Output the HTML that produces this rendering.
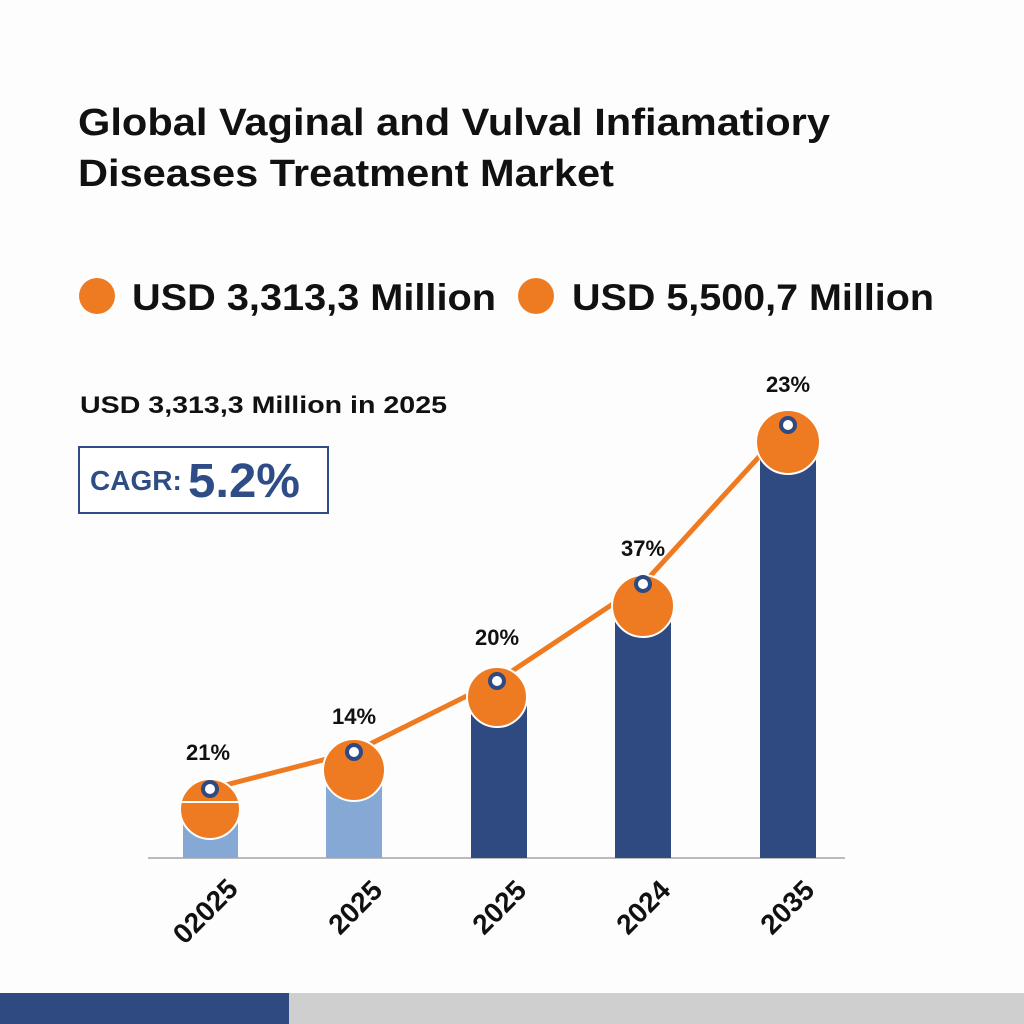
<!DOCTYPE html>
<html><head><style>body{margin:0;background:#fff}svg{display:block}</style></head><body>
<svg width="1024" height="1024" viewBox="0 0 1024 1024" font-family="Liberation Sans, Arial, sans-serif">
<rect width="1024" height="1024" fill="#fdfdfd"/>
<text x="78" y="135" font-size="38" font-weight="bold" fill="#111" textLength="752" lengthAdjust="spacingAndGlyphs">Global Vaginal and Vulval Infiamatiory</text>
<text x="78" y="186" font-size="38" font-weight="bold" fill="#111" textLength="536" lengthAdjust="spacingAndGlyphs">Diseases Treatment Market</text>
<circle cx="97" cy="296" r="18" fill="#ee7b22"/>
<text x="132" y="310" font-size="37" font-weight="bold" fill="#111" textLength="364" lengthAdjust="spacingAndGlyphs">USD 3,313,3 Million</text>
<circle cx="536" cy="296" r="18" fill="#ee7b22"/>
<text x="572" y="310" font-size="37" font-weight="bold" fill="#111" textLength="362" lengthAdjust="spacingAndGlyphs">USD 5,500,7 Million</text>
<text x="80" y="413" font-size="24" font-weight="bold" fill="#111" textLength="367" lengthAdjust="spacingAndGlyphs">USD 3,313,3 Million in 2025</text>
<rect x="79" y="447" width="249" height="66" fill="#fff" stroke="#2e4d87" stroke-width="2"/>
<text x="90" y="490" font-size="28" font-weight="bold" fill="#2e4d87">CAGR:</text>
<text x="188" y="497" font-size="48" font-weight="bold" fill="#2e4d87" textLength="112" lengthAdjust="spacingAndGlyphs">5.2%</text>
<line x1="148" y1="858" x2="845" y2="858" stroke="#bbb" stroke-width="2"/>
<rect x="183" y="820" width="55" height="38" fill="#85a8d4"/>
<rect x="326" y="785" width="56" height="73" fill="#85a8d4"/>
<rect x="471" y="700" width="56" height="158" fill="#2e4a80"/>
<rect x="615" y="615" width="56" height="243" fill="#2e4a80"/>
<rect x="760" y="455" width="56" height="403" fill="#2e4a80"/>
<polyline points="210,789 354,752 497,681 643,584 788,425" fill="none" stroke="#ee7b22" stroke-width="5"/>
<g fill="#ee7b22" stroke="#fff" stroke-width="2">
<circle cx="210" cy="809" r="30"/><circle cx="354" cy="770" r="31"/><circle cx="497" cy="697" r="30"/><circle cx="643" cy="606" r="31"/><circle cx="788" cy="442" r="32"/>
</g>
<line x1="180" y1="802" x2="241" y2="802" stroke="#fff" stroke-width="2"/>
<g fill="#fff" stroke="#2e4a80" stroke-width="4">
<circle cx="210" cy="789" r="7"/><circle cx="354" cy="752" r="7"/><circle cx="497" cy="681" r="7"/><circle cx="643" cy="584" r="7"/><circle cx="788" cy="425" r="7"/>
</g>
<g font-size="22" font-weight="bold" fill="#111" text-anchor="middle">
<text x="208" y="760">21%</text><text x="354" y="724">14%</text><text x="497" y="645">20%</text><text x="643" y="556">37%</text><text x="788" y="392">23%</text>
</g>
<g font-size="28" font-weight="bold" fill="#111" text-anchor="middle">
<text transform="translate(212,918) rotate(-45)">02025</text>
<text transform="translate(362,914) rotate(-45)">2025</text>
<text transform="translate(506,914) rotate(-45)">2025</text>
<text transform="translate(650,914) rotate(-45)">2024</text>
<text transform="translate(794,914) rotate(-45)">2035</text>
</g>
<rect x="0" y="993" width="289" height="31" fill="#2e4a80"/>
<rect x="289" y="993" width="735" height="31" fill="#cfcfcf"/>
</svg>
</body></html>
